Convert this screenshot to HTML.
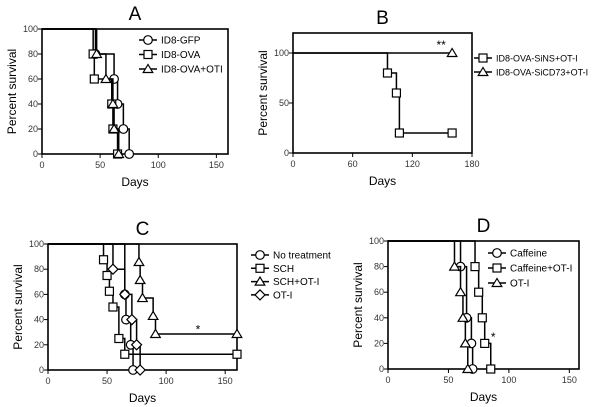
<!DOCTYPE html>
<html><head><meta charset="utf-8"><style>
body{margin:0;background:#fff;}
svg{display:block;font-family:"Liberation Sans",Arial,sans-serif;}
</style></head><body>
<svg id="fig" width="600" height="407" viewBox="0 0 600 407"></svg>
<script>
// ---- Data ----
// Panel A
const aGfpT=[46,62,65,70,75];       const aGfpS=[80,60,40,20,0];
const aOvaT=[44,45,60,61,65];       const aOvaS=[80,60,40,20,0];
const aOtiT=[47,55,61,62,66];       const aOtiS=[80,60,40,20,0];
// Panel B
const bSinsT=[95,104,107];          const bSinsS=[80,60,20];
const bCd73T=[];                    const bCd73S=[];
// Panel C
const cNoT=[65,66,70,72];           const cNoS=[60,40,20,0];
const cSchT=[47,50,52,55,60,65];    const cSchS=[87.5,75,62.5,50,25,12.5];
const cSchOtT=[77,78,80,89,91];     const cSchOtS=[85.7,71.4,57.1,42.9,28.6];
const cOtT=[55,65,71,75,78];        const cOtS=[80,60,40,20,0];
// Panel D
const dCafT=[60,65,69,70];          const dCafS=[80,40,20,0];
const dCafOtT=[72,75,78,80,85];     const dCafOtS=[80,60,40,20,0];
const dOtT=[55,60,62,64,66];        const dOtS=[80,60,40,20,0];
// Ticks
const xTicks150=[0,50,100,150];
const xTicksB=[0,60,120,180];
const yTicks=[0,20,40,60,80,100];
const yTicksB=[0,50,100];

const NS="http://www.w3.org/2000/svg";
const svg=document.getElementById('fig');
function mk(tag,attrs,parent){const e=document.createElementNS(NS,tag);for(const k in attrs)e.setAttribute(k,attrs[k]);(parent||svg).appendChild(e);return e;}

function marker(g,type,x,y){
  const st={fill:'#fff',stroke:'#000','stroke-width':1.2};
  let e;
  if(type==='circle'){e=mk('circle',Object.assign({cx:x,cy:y,r:4.3},st),g);}
  else if(type==='square'){e=mk('rect',Object.assign({x:x-4,y:y-4,width:8,height:8},st),g);}
  else if(type==='triangle'){e=mk('polygon',Object.assign({points:`${x},${y-4.5} ${x+4.8},${y+3.5} ${x-4.8},${y+3.5}`},st),g);}
  else {e=mk('polygon',Object.assign({points:`${x},${y-5} ${x+5},${y} ${x},${y+5} ${x-5},${y}`},st),g);}
  
  
}

function panel(p){
  const g=mk('g',{});
  
  
  const sx=v=>p.x0+(v/p.xmax)*(p.x1-p.x0);
  const sy=v=>p.y0-(v/p.ymax)*(p.y0-p.y1);
  const t=mk('text',{x:(p.x0+p.x1)/2,y:p.y1-9,'text-anchor':'middle','font-size':19},g);t.textContent=p.id;
  
  mk('rect',{x:p.x0,y:p.y1,width:p.x1-p.x0,height:p.y0-p.y1,fill:'none',stroke:'#000','stroke-width':1.6},g);
  p.xt.forEach(v=>{
    mk('line',{x1:sx(v),x2:sx(v),y1:p.y0,y2:p.y0+4,stroke:'#000'},g);
    const l=mk('text',{x:sx(v),y:p.y0+14,'text-anchor':'middle','font-size':9,fill:'#333'},g);l.textContent=v;
    
  });
  p.yt.forEach(v=>{
    mk('line',{x1:p.x0-4,x2:p.x0,y1:sy(v),y2:sy(v),stroke:'#000'},g);
    const l=mk('text',{x:p.x0-4,y:sy(v)+3,'text-anchor':'end','font-size':9,fill:'#333'},g);l.textContent=v;
    
  });
  const xl=mk('text',{x:(p.x0+p.x1)/2,y:p.y0+32,'text-anchor':'middle','font-size':12},g);xl.textContent='Days';
  
  const ym=(p.y0+p.y1)/2;
  const yl=mk('text',{x:p.x0-26,y:ym,'text-anchor':'middle','font-size':12,transform:`rotate(-90 ${p.x0-26} ${ym})`},g);yl.textContent='Percent survival';
  
  p.series.forEach((s,i)=>{
    let d=`M${sx(0)},${sy(100)}`;let cur=100;
    s.t.forEach((tv,k)=>{d+=` L${sx(tv)},${sy(cur)} L${sx(tv)},${sy(s.s[k])}`;cur=s.s[k];});
    if(s.c!=null)d+=` L${sx(s.c)},${sy(cur)}`;
    const path=mk('path',{d:d,fill:'none',stroke:'#000','stroke-width':1.5},g);
    
    s.t.forEach((tv,k)=>marker(g,s.m,sx(tv),sy(s.s[k])));
    if(s.c!=null)marker(g,s.m,sx(s.c),sy(cur));
    const lx=p.lx, ly=p.ly+i*p.ld;
    mk('line',{x1:lx-9,x2:lx+9,y1:ly,y2:ly,stroke:'#000','stroke-width':1.5},g);
    marker(g,s.m,lx,ly);
    const lt=mk('text',{x:lx+13,y:ly+3.5,'font-size':p.lf},g);lt.textContent=s.name;
    
  });
  (p.stars||[]).forEach(st=>{
    const e=mk('text',{x:sx(st.x),y:sy(st.y),'text-anchor':'middle','font-size':12},g);e.textContent=st.txt;
    
  });
}

panel({id:'A',x0:42,x1:228,y0:154,y1:29,xmax:160,ymax:100,xt:xTicks150,yt:yTicks,lx:148,ly:40,ld:14.5,lf:10,
  series:[{name:'ID8-GFP',t:aGfpT,s:aGfpS,m:'circle'},{name:'ID8-OVA',t:aOvaT,s:aOvaS,m:'square'},{name:'ID8-OVA+OTI',t:aOtiT,s:aOtiS,m:'triangle'}]});
panel({id:'B',x0:293,x1:472,y0:153,y1:33,xmax:180,ymax:120,xt:xTicksB,yt:yTicksB,lx:483,ly:58,ld:14,lf:9,
  series:[{name:'ID8-OVA-SiNS+OT-I',t:bSinsT,s:bSinsS,m:'square',c:160},{name:'ID8-OVA-SiCD73+OT-I',t:bCd73T,s:bCd73S,m:'triangle',c:160}],
  stars:[{x:149,y:104,txt:'**'}]});
panel({id:'C',x0:48,x1:237,y0:370,y1:244,xmax:160,ymax:100,xt:xTicks150,yt:yTicks,lx:260,ly:255,ld:13.3,lf:10,
  series:[{name:'No treatment',t:cNoT,s:cNoS,m:'circle'},{name:'SCH',t:cSchT,s:cSchS,m:'square',c:160},{name:'SCH+OT-I',t:cSchOtT,s:cSchOtS,m:'triangle',c:160},{name:'OT-I',t:cOtT,s:cOtS,m:'diamond'}],
  stars:[{x:127,y:29,txt:'*'}]});
panel({id:'D',x0:388,x1:579,y0:369,y1:241,xmax:158,ymax:100,xt:xTicks150,yt:yTicks,lx:497,ly:253,ld:15,lf:10,
  series:[{name:'Caffeine',t:dCafT,s:dCafS,m:'circle'},{name:'Caffeine+OT-I',t:dCafOtT,s:dCafOtS,m:'square'},{name:'OT-I',t:dOtT,s:dOtS,m:'triangle'}],
  stars:[{x:87,y:22,txt:'*'}]});
</script>
</body></html>
